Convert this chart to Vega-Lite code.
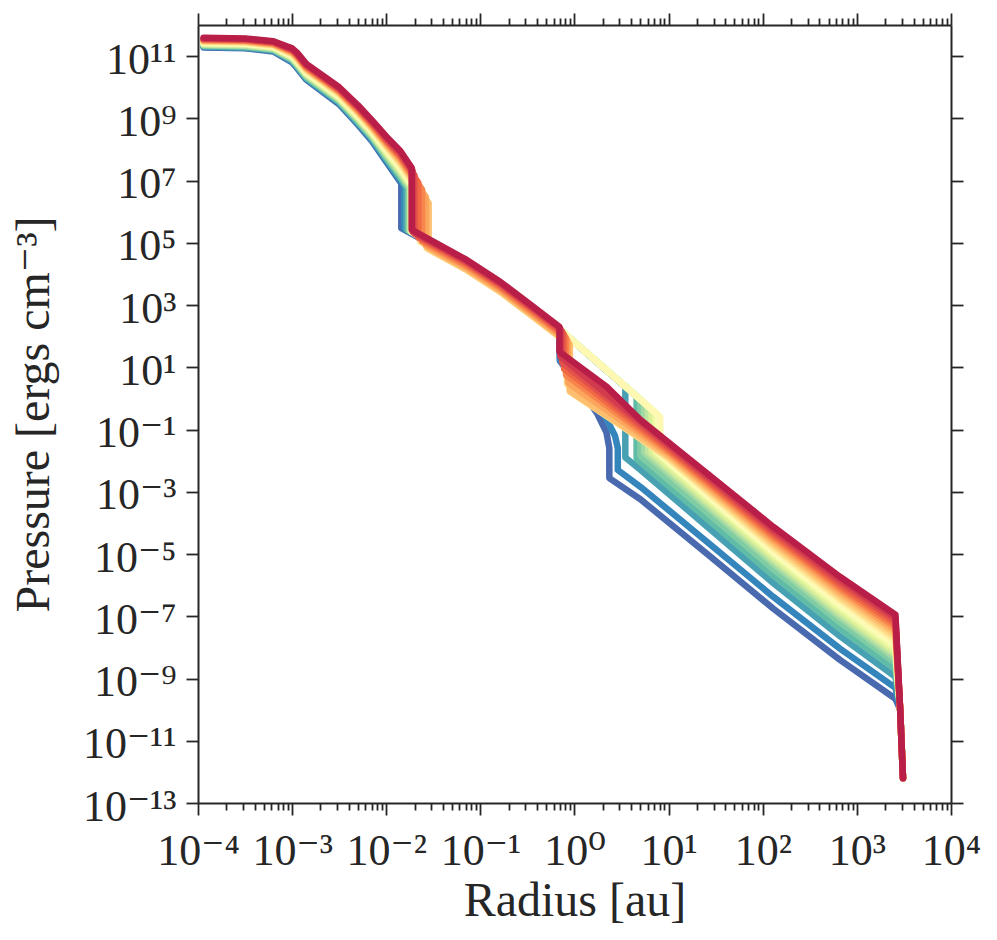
{
  "$schema": "https://vega.github.io/schema/vega-lite/v6.json",
  "width": 753,
  "height": 778,
  "autosize": {"type": "none"},
  "padding": {"left": 198, "top": 25, "right": 46, "bottom": 137},
  "background": "white",
  "config": {
    "view": {"stroke": null},
    "font": "Liberation Serif, DejaVu Serif, serif",
    "axis": {
      "domainColor": "#262626",
      "domainWidth": 2,
      "tickColor": "#262626",
      "tickWidth": 1.8,
      "labelColor": "#262626",
      "titleColor": "#262626",
      "labelFont": "Liberation Serif, DejaVu Serif, serif",
      "titleFont": "Liberation Serif, DejaVu Serif, serif",
      "labelFontSize": 44,
      "titleFontSize": 48,
      "titleFontWeight": "normal",
      "grid": false,
      "labelOverlap": false,
      "labelFlush": false
    }
  },
  "data": {
    "values": [
      {"s":0,"k":0,"r":1.148e-4,"p":1.905e11},{"s":0,"k":1,"r":3.162e-4,"p":1.778e11},{"s":0,"k":2,"r":6.31e-4,"p":1.413e11},{"s":0,"k":3,"r":1e-3,"p":6.31e10},{"s":0,"k":3.5,"r":1.122e-3,"p":4.169e10},{"s":0,"k":4,"r":1.413e-3,"p":1.738e10},{"s":0,"k":5,"r":3.162e-3,"p":2.818e9},{"s":0,"k":6,"r":5.012e-3,"p":6.166e8},{"s":0,"k":7,"r":7.079e-3,"p":1.82e8},{"s":0,"k":8,"r":0.01,"p":3.981e7},{"s":0,"k":9,"r":0.01413,"p":8.913e6},{"s":0,"k":10,"r":0.01445,"p":7.943e6},{"s":0,"k":11,"r":0.01445,"p":2.951e5},{"s":0,"k":12,"r":0.03162,"p":8.128e4},{"s":0,"k":13,"r":0.07161,"p":2.089e4},{"s":0,"k":14,"r":0.1622,"p":4169},{"s":0,"k":15,"r":0.3631,"p":660.7},{"s":0,"k":16,"r":0.6918,"p":147.9},{"s":0,"k":17,"r":0.6998,"p":17.78},{"s":0,"k":18,"r":1.259,"p":1.413},{"s":0,"k":19,"r":1.738,"p":0.3311},{"s":0,"k":20,"r":2.188,"p":0.07943},{"s":0,"k":21,"r":2.344,"p":0.02512},{"s":0,"k":22,"r":2.344,"p":2.754e-3},{"s":0,"k":23,"r":5.012,"p":5.754e-4},{"s":0,"k":24,"r":25.7,"p":1e-5},{"s":0,"k":25,"r":128.8,"p":1.778e-7},{"s":0,"k":26,"r":660.7,"p":3.981e-9},{"s":0,"k":27,"r":2570,"p":2.239e-10},{"s":0,"k":28,"r":2884,"p":1e-10},{"s":0,"k":29,"r":3090,"p":6.31e-13},
      {"s":1,"k":0,"r":1.148e-4,"p":1.995e11},{"s":1,"k":1,"r":3.162e-4,"p":1.862e11},{"s":1,"k":2,"r":6.31e-4,"p":1.479e11},{"s":1,"k":3,"r":1e-3,"p":6.607e10},{"s":1,"k":3.5,"r":1.122e-3,"p":4.467e10},{"s":1,"k":4,"r":1.413e-3,"p":1.862e10},{"s":1,"k":5,"r":3.162e-3,"p":3.02e9},{"s":1,"k":6,"r":5.012e-3,"p":6.607e8},{"s":1,"k":7,"r":7.079e-3,"p":1.995e8},{"s":1,"k":8,"r":0.01,"p":4.365e7},{"s":1,"k":9,"r":0.01413,"p":1e7},{"s":1,"k":10,"r":0.01549,"p":6.607e6},{"s":1,"k":11,"r":0.01549,"p":2.818e5},{"s":1,"k":12,"r":0.03162,"p":8.71e4},{"s":1,"k":13,"r":0.07161,"p":2.239e4},{"s":1,"k":14,"r":0.1622,"p":4467},{"s":1,"k":15,"r":0.3631,"p":707.9},{"s":1,"k":16,"r":0.6918,"p":158.5},{"s":1,"k":17,"r":0.6998,"p":15.85},{"s":1,"k":18,"r":1.413,"p":1},{"s":1,"k":19,"r":2.138,"p":0.2512},{"s":1,"k":20,"r":2.692,"p":0.0631},{"s":1,"k":21,"r":2.884,"p":0.02512},{"s":1,"k":22,"r":2.884,"p":5.012e-3},{"s":1,"k":23,"r":5.012,"p":1.445e-3},{"s":1,"k":24,"r":25.7,"p":2.455e-5},{"s":1,"k":25,"r":128.8,"p":4.266e-7},{"s":1,"k":26,"r":660.7,"p":9.12e-9},{"s":1,"k":27,"r":2570,"p":5.012e-10},{"s":1,"k":28,"r":2884,"p":1e-10},{"s":1,"k":29,"r":3090,"p":6.31e-13},
      {"s":2,"k":0,"r":1.148e-4,"p":2.042e11},{"s":2,"k":1,"r":3.162e-4,"p":1.905e11},{"s":2,"k":2,"r":6.31e-4,"p":1.549e11},{"s":2,"k":3,"r":1e-3,"p":7.079e10},{"s":2,"k":3.5,"r":1.122e-3,"p":4.677e10},{"s":2,"k":4,"r":1.413e-3,"p":1.95e10},{"s":2,"k":5,"r":3.162e-3,"p":3.236e9},{"s":2,"k":6,"r":5.012e-3,"p":7.244e8},{"s":2,"k":7,"r":7.079e-3,"p":2.138e8},{"s":2,"k":8,"r":0.01,"p":4.898e7},{"s":2,"k":9,"r":0.01413,"p":1.148e7},{"s":2,"k":10,"r":0.01622,"p":6.166e6},{"s":2,"k":11,"r":0.01622,"p":2.692e5},{"s":2,"k":12,"r":0.03162,"p":8.913e4},{"s":2,"k":13,"r":0.07161,"p":2.291e4},{"s":2,"k":14,"r":0.1622,"p":4571},{"s":2,"k":15,"r":0.3631,"p":724.4},{"s":2,"k":16,"r":0.6918,"p":162.2},{"s":2,"k":17,"r":3.467,"p":2.344},{"s":2,"k":18,"r":3.467,"p":0.01259},{"s":2,"k":19,"r":5.012,"p":5.129e-3},{"s":2,"k":20,"r":25.7,"p":7.586e-5},{"s":2,"k":21,"r":128.8,"p":1.175e-6},{"s":2,"k":22,"r":660.7,"p":2.291e-8},{"s":2,"k":23,"r":2570,"p":1.122e-9},{"s":2,"k":24,"r":2884,"p":1e-10},{"s":2,"k":25,"r":3090,"p":6.31e-13},
      {"s":3,"k":0,"r":1.148e-4,"p":2.138e11},{"s":3,"k":1,"r":3.162e-4,"p":1.995e11},{"s":3,"k":2,"r":6.31e-4,"p":1.585e11},{"s":3,"k":3,"r":1e-3,"p":7.413e10},{"s":3,"k":3.5,"r":1.122e-3,"p":5.012e10},{"s":3,"k":4,"r":1.413e-3,"p":2.089e10},{"s":3,"k":5,"r":3.162e-3,"p":3.467e9},{"s":3,"k":6,"r":5.012e-3,"p":7.762e8},{"s":3,"k":7,"r":7.079e-3,"p":2.344e8},{"s":3,"k":8,"r":0.01,"p":5.37e7},{"s":3,"k":9,"r":0.01413,"p":1.288e7},{"s":3,"k":10,"r":0.01698,"p":5.623e6},{"s":3,"k":11,"r":0.01698,"p":2.57e5},{"s":3,"k":12,"r":0.03162,"p":9.12e4},{"s":3,"k":13,"r":0.07161,"p":2.344e4},{"s":3,"k":14,"r":0.1622,"p":4677},{"s":3,"k":15,"r":0.3631,"p":741.3},{"s":3,"k":16,"r":0.6918,"p":166},{"s":3,"k":17,"r":4.571,"p":1.148},{"s":3,"k":18,"r":4.571,"p":0.01148},{"s":3,"k":19,"r":5.012,"p":9.12e-3},{"s":3,"k":20,"r":25.7,"p":1.349e-4},{"s":3,"k":21,"r":128.8,"p":2.089e-6},{"s":3,"k":22,"r":660.7,"p":4.074e-8},{"s":3,"k":23,"r":2570,"p":1.995e-9},{"s":3,"k":24,"r":2884,"p":1e-10},{"s":3,"k":25,"r":3090,"p":6.31e-13},
      {"s":4,"k":0,"r":1.148e-4,"p":2.239e11},{"s":4,"k":1,"r":3.162e-4,"p":2.089e11},{"s":4,"k":2,"r":6.31e-4,"p":1.66e11},{"s":4,"k":3,"r":1e-3,"p":7.943e10},{"s":4,"k":3.5,"r":1.122e-3,"p":5.37e10},{"s":4,"k":4,"r":1.413e-3,"p":2.239e10},{"s":4,"k":5,"r":3.162e-3,"p":3.715e9},{"s":4,"k":6,"r":5.012e-3,"p":8.318e8},{"s":4,"k":7,"r":7.079e-3,"p":2.512e8},{"s":4,"k":8,"r":0.01,"p":5.888e7},{"s":4,"k":9,"r":0.01413,"p":1.445e7},{"s":4,"k":10,"r":0.01738,"p":5.754e6},{"s":4,"k":11,"r":0.01738,"p":2.512e5},{"s":4,"k":12,"r":0.03162,"p":9.333e4},{"s":4,"k":13,"r":0.07161,"p":2.399e4},{"s":4,"k":14,"r":0.1622,"p":4786},{"s":4,"k":15,"r":0.3631,"p":758.6},{"s":4,"k":16,"r":0.6918,"p":169.8},{"s":4,"k":17,"r":5.012,"p":0.9333},{"s":4,"k":18,"r":5.012,"p":0.01445},{"s":4,"k":19,"r":25.7,"p":2.138e-4},{"s":4,"k":20,"r":128.8,"p":3.311e-6},{"s":4,"k":21,"r":660.7,"p":6.457e-8},{"s":4,"k":22,"r":2570,"p":3.162e-9},{"s":4,"k":23,"r":2884,"p":1e-10},{"s":4,"k":24,"r":3090,"p":6.31e-13},
      {"s":5,"k":0,"r":1.148e-4,"p":2.291e11},{"s":5,"k":1,"r":3.162e-4,"p":2.138e11},{"s":5,"k":2,"r":6.31e-4,"p":1.738e11},{"s":5,"k":3,"r":1e-3,"p":8.318e10},{"s":5,"k":3.5,"r":1.122e-3,"p":5.623e10},{"s":5,"k":4,"r":1.413e-3,"p":2.344e10},{"s":5,"k":5,"r":3.162e-3,"p":3.981e9},{"s":5,"k":6,"r":5.012e-3,"p":9.12e8},{"s":5,"k":7,"r":7.079e-3,"p":2.754e8},{"s":5,"k":8,"r":0.01,"p":6.607e7},{"s":5,"k":9,"r":0.01413,"p":1.622e7},{"s":5,"k":10,"r":0.01778,"p":5.754e6},{"s":5,"k":11,"r":0.01778,"p":2.399e5},{"s":5,"k":12,"r":0.03162,"p":9.333e4},{"s":5,"k":13,"r":0.07161,"p":2.399e4},{"s":5,"k":14,"r":0.1622,"p":4786},{"s":5,"k":15,"r":0.3631,"p":758.6},{"s":5,"k":16,"r":0.6918,"p":169.8},{"s":5,"k":17,"r":5.495,"p":0.7244},{"s":5,"k":18,"r":5.495,"p":0.0182},{"s":5,"k":19,"r":25.7,"p":3.311e-4},{"s":5,"k":20,"r":128.8,"p":5.012e-6},{"s":5,"k":21,"r":660.7,"p":9.333e-8},{"s":5,"k":22,"r":2570,"p":4.467e-9},{"s":5,"k":23,"r":2884,"p":1e-10},{"s":5,"k":24,"r":3090,"p":6.31e-13},
      {"s":6,"k":0,"r":1.148e-4,"p":2.399e11},{"s":6,"k":1,"r":3.162e-4,"p":2.239e11},{"s":6,"k":2,"r":6.31e-4,"p":1.778e11},{"s":6,"k":3,"r":1e-3,"p":8.71e10},{"s":6,"k":3.5,"r":1.122e-3,"p":6.026e10},{"s":6,"k":4,"r":1.413e-3,"p":2.512e10},{"s":6,"k":5,"r":3.162e-3,"p":4.169e9},{"s":6,"k":6,"r":5.012e-3,"p":9.772e8},{"s":6,"k":7,"r":7.079e-3,"p":2.951e8},{"s":6,"k":8,"r":0.01,"p":7.244e7},{"s":6,"k":9,"r":0.01413,"p":1.862e7},{"s":6,"k":10,"r":0.0182,"p":6.026e6},{"s":6,"k":11,"r":0.0182,"p":2.344e5},{"s":6,"k":12,"r":0.03162,"p":9.333e4},{"s":6,"k":13,"r":0.07161,"p":2.399e4},{"s":6,"k":14,"r":0.1622,"p":4786},{"s":6,"k":15,"r":0.3631,"p":758.6},{"s":6,"k":16,"r":0.6918,"p":169.8},{"s":6,"k":17,"r":6.026,"p":0.5754},{"s":6,"k":18,"r":6.026,"p":0.01862},{"s":6,"k":19,"r":25.7,"p":4.169e-4},{"s":6,"k":20,"r":128.8,"p":6.31e-6},{"s":6,"k":21,"r":660.7,"p":1.175e-7},{"s":6,"k":22,"r":2570,"p":5.623e-9},{"s":6,"k":23,"r":2884,"p":1e-10},{"s":6,"k":24,"r":3090,"p":6.31e-13},
      {"s":7,"k":0,"r":1.148e-4,"p":2.455e11},{"s":7,"k":1,"r":3.162e-4,"p":2.344e11},{"s":7,"k":2,"r":6.31e-4,"p":1.862e11},{"s":7,"k":3,"r":1e-3,"p":9.333e10},{"s":7,"k":3.5,"r":1.122e-3,"p":6.31e10},{"s":7,"k":4,"r":1.413e-3,"p":2.692e10},{"s":7,"k":5,"r":3.162e-3,"p":4.467e9},{"s":7,"k":6,"r":5.012e-3,"p":1.047e9},{"s":7,"k":7,"r":7.079e-3,"p":3.236e8},{"s":7,"k":8,"r":0.01,"p":7.943e7},{"s":7,"k":9,"r":0.01413,"p":2.089e7},{"s":7,"k":10,"r":0.0182,"p":6.761e6},{"s":7,"k":11,"r":0.0182,"p":2.344e5},{"s":7,"k":12,"r":0.03162,"p":9.333e4},{"s":7,"k":13,"r":0.07161,"p":2.399e4},{"s":7,"k":14,"r":0.1622,"p":4786},{"s":7,"k":15,"r":0.3631,"p":758.6},{"s":7,"k":16,"r":0.6918,"p":169.8},{"s":7,"k":17,"r":6.607,"p":0.4467},{"s":7,"k":18,"r":6.607,"p":0.01862},{"s":7,"k":19,"r":25.7,"p":5.248e-4},{"s":7,"k":20,"r":128.8,"p":7.943e-6},{"s":7,"k":21,"r":660.7,"p":1.479e-7},{"s":7,"k":22,"r":2570,"p":7.079e-9},{"s":7,"k":23,"r":2884,"p":1e-10},{"s":7,"k":24,"r":3090,"p":6.31e-13},
      {"s":8,"k":0,"r":1.148e-4,"p":2.57e11},{"s":8,"k":1,"r":3.162e-4,"p":2.455e11},{"s":8,"k":2,"r":6.31e-4,"p":1.95e11},{"s":8,"k":3,"r":1e-3,"p":9.772e10},{"s":8,"k":3.5,"r":1.122e-3,"p":6.761e10},{"s":8,"k":4,"r":1.413e-3,"p":2.884e10},{"s":8,"k":5,"r":3.162e-3,"p":4.786e9},{"s":8,"k":6,"r":5.012e-3,"p":1.148e9},{"s":8,"k":7,"r":7.079e-3,"p":3.467e8},{"s":8,"k":8,"r":0.01,"p":8.913e7},{"s":8,"k":9,"r":0.01413,"p":2.344e7},{"s":8,"k":10,"r":0.01862,"p":6.761e6},{"s":8,"k":11,"r":0.01862,"p":2.239e5},{"s":8,"k":12,"r":0.03162,"p":9.333e4},{"s":8,"k":13,"r":0.07161,"p":2.399e4},{"s":8,"k":14,"r":0.1622,"p":4786},{"s":8,"k":15,"r":0.3631,"p":758.6},{"s":8,"k":16,"r":0.6918,"p":169.8},{"s":8,"k":17,"r":7.244,"p":0.3548},{"s":8,"k":18,"r":7.244,"p":0.01862},{"s":8,"k":19,"r":25.7,"p":6.607e-4},{"s":8,"k":20,"r":128.8,"p":1e-5},{"s":8,"k":21,"r":660.7,"p":1.862e-7},{"s":8,"k":22,"r":2570,"p":8.913e-9},{"s":8,"k":23,"r":2884,"p":1e-10},{"s":8,"k":24,"r":3090,"p":6.31e-13},
      {"s":9,"k":0,"r":1.148e-4,"p":2.692e11},{"s":9,"k":1,"r":3.162e-4,"p":2.512e11},{"s":9,"k":2,"r":6.31e-4,"p":2.042e11},{"s":9,"k":3,"r":1e-3,"p":1.023e11},{"s":9,"k":3.5,"r":1.122e-3,"p":7.244e10},{"s":9,"k":4,"r":1.413e-3,"p":3.02e10},{"s":9,"k":5,"r":3.162e-3,"p":5.129e9},{"s":9,"k":6,"r":5.012e-3,"p":1.23e9},{"s":9,"k":7,"r":7.079e-3,"p":3.802e8},{"s":9,"k":8,"r":0.01,"p":9.772e7},{"s":9,"k":9,"r":0.01413,"p":2.63e7},{"s":9,"k":10,"r":0.01905,"p":6.918e6},{"s":9,"k":11,"r":0.01905,"p":2.138e5},{"s":9,"k":12,"r":0.03162,"p":9.333e4},{"s":9,"k":13,"r":0.07161,"p":2.399e4},{"s":9,"k":14,"r":0.1622,"p":4786},{"s":9,"k":15,"r":0.3631,"p":758.6},{"s":9,"k":16,"r":0.6918,"p":169.8},{"s":9,"k":17,"r":7.762,"p":0.2951},{"s":9,"k":18,"r":7.762,"p":0.01778},{"s":9,"k":19,"r":25.7,"p":7.586e-4},{"s":9,"k":20,"r":128.8,"p":1.175e-5},{"s":9,"k":21,"r":660.7,"p":2.291e-7},{"s":9,"k":22,"r":2570,"p":1.122e-8},{"s":9,"k":23,"r":2884,"p":1e-10},{"s":9,"k":24,"r":3090,"p":6.31e-13},
      {"s":10,"k":0,"r":1.148e-4,"p":2.754e11},{"s":10,"k":1,"r":3.162e-4,"p":2.63e11},{"s":10,"k":2,"r":6.31e-4,"p":2.089e11},{"s":10,"k":3,"r":1e-3,"p":1.096e11},{"s":10,"k":3.5,"r":1.122e-3,"p":7.586e10},{"s":10,"k":4,"r":1.413e-3,"p":3.236e10},{"s":10,"k":5,"r":3.162e-3,"p":5.495e9},{"s":10,"k":6,"r":5.012e-3,"p":1.318e9},{"s":10,"k":7,"r":7.079e-3,"p":4.074e8},{"s":10,"k":8,"r":0.01,"p":1.072e8},{"s":10,"k":9,"r":0.01413,"p":3.02e7},{"s":10,"k":10,"r":0.01995,"p":6.457e6},{"s":10,"k":11,"r":0.01995,"p":1.905e5},{"s":10,"k":12,"r":0.03162,"p":8.913e4},{"s":10,"k":13,"r":0.07161,"p":2.291e4},{"s":10,"k":14,"r":0.1622,"p":4571},{"s":10,"k":15,"r":0.3631,"p":724.4},{"s":10,"k":16,"r":0.6918,"p":162.2},{"s":10,"k":17,"r":8.128,"p":0.2512},{"s":10,"k":18,"r":8.128,"p":0.01778},{"s":10,"k":19,"r":25.7,"p":8.913e-4},{"s":10,"k":20,"r":128.8,"p":1.413e-5},{"s":10,"k":21,"r":660.7,"p":2.818e-7},{"s":10,"k":22,"r":2570,"p":1.413e-8},{"s":10,"k":23,"r":2884,"p":1e-10},{"s":10,"k":24,"r":3090,"p":6.31e-13},
      {"s":11,"k":0,"r":1.148e-4,"p":2.884e11},{"s":11,"k":1,"r":3.162e-4,"p":2.754e11},{"s":11,"k":2,"r":6.31e-4,"p":2.188e11},{"s":11,"k":3,"r":1e-3,"p":1.148e11},{"s":11,"k":3.5,"r":1.122e-3,"p":8.128e10},{"s":11,"k":4,"r":1.413e-3,"p":3.467e10},{"s":11,"k":5,"r":3.162e-3,"p":5.888e9},{"s":11,"k":6,"r":5.012e-3,"p":1.445e9},{"s":11,"k":7,"r":7.079e-3,"p":4.467e8},{"s":11,"k":8,"r":0.01,"p":1.202e8},{"s":11,"k":9,"r":0.01413,"p":3.388e7},{"s":11,"k":10,"r":0.02291,"p":3.89e6},{"s":11,"k":11,"r":0.02291,"p":1.072e5},{"s":11,"k":12,"r":0.03162,"p":6.31e4},{"s":11,"k":13,"r":0.07161,"p":1.622e4},{"s":11,"k":14,"r":0.1622,"p":3236},{"s":11,"k":15,"r":0.3631,"p":512.9},{"s":11,"k":16,"r":0.8318,"p":74.13},{"s":11,"k":17,"r":0.8318,"p":2.818},{"s":11,"k":18,"r":10,"p":0.01122},{"s":11,"k":19,"r":25.7,"p":1.023e-3},{"s":11,"k":20,"r":128.8,"p":1.66e-5},{"s":11,"k":21,"r":660.7,"p":3.467e-7},{"s":11,"k":22,"r":2570,"p":1.778e-8},{"s":11,"k":23,"r":2884,"p":1e-10},{"s":11,"k":24,"r":3090,"p":6.31e-13},
      {"s":12,"k":0,"r":1.148e-4,"p":3.02e11},{"s":12,"k":1,"r":3.162e-4,"p":2.818e11},{"s":12,"k":2,"r":6.31e-4,"p":2.291e11},{"s":12,"k":3,"r":1e-3,"p":1.202e11},{"s":12,"k":3.5,"r":1.122e-3,"p":8.71e10},{"s":12,"k":4,"r":1.413e-3,"p":3.631e10},{"s":12,"k":5,"r":3.162e-3,"p":6.31e9},{"s":12,"k":6,"r":5.012e-3,"p":1.549e9},{"s":12,"k":7,"r":7.079e-3,"p":4.786e8},{"s":12,"k":8,"r":0.01,"p":1.318e8},{"s":12,"k":9,"r":0.01413,"p":3.802e7},{"s":12,"k":10,"r":0.02692,"p":2.089e6},{"s":12,"k":11,"r":0.02692,"p":6.761e4},{"s":12,"k":12,"r":0.03162,"p":5.129e4},{"s":12,"k":13,"r":0.07161,"p":1.318e4},{"s":12,"k":14,"r":0.1622,"p":2630},{"s":12,"k":15,"r":0.3631,"p":416.9},{"s":12,"k":16,"r":0.8913,"p":51.29},{"s":12,"k":17,"r":0.8913,"p":1.66},{"s":12,"k":18,"r":10,"p":0.01259},{"s":12,"k":19,"r":25.7,"p":1.175e-3},{"s":12,"k":20,"r":128.8,"p":1.995e-5},{"s":12,"k":21,"r":660.7,"p":4.169e-7},{"s":12,"k":22,"r":2570,"p":2.239e-8},{"s":12,"k":23,"r":2884,"p":1e-10},{"s":12,"k":24,"r":3090,"p":6.31e-13},
      {"s":13,"k":0,"r":1.148e-4,"p":3.09e11},{"s":13,"k":1,"r":3.162e-4,"p":2.951e11},{"s":13,"k":2,"r":6.31e-4,"p":2.399e11},{"s":13,"k":3,"r":1e-3,"p":1.288e11},{"s":13,"k":3.5,"r":1.122e-3,"p":9.12e10},{"s":13,"k":4,"r":1.413e-3,"p":3.89e10},{"s":13,"k":5,"r":3.162e-3,"p":6.761e9},{"s":13,"k":6,"r":5.012e-3,"p":1.66e9},{"s":13,"k":7,"r":7.079e-3,"p":5.248e8},{"s":13,"k":8,"r":0.01,"p":1.445e8},{"s":13,"k":9,"r":0.01413,"p":4.266e7},{"s":13,"k":10,"r":0.02818,"p":1.905e6},{"s":13,"k":11,"r":0.02818,"p":6.607e4},{"s":13,"k":12,"r":0.03162,"p":5.495e4},{"s":13,"k":13,"r":0.07161,"p":1.413e4},{"s":13,"k":14,"r":0.1622,"p":2818},{"s":13,"k":15,"r":0.3631,"p":446.7},{"s":13,"k":16,"r":0.8913,"p":54.95},{"s":13,"k":17,"r":0.8913,"p":1.778},{"s":13,"k":18,"r":10,"p":0.01445},{"s":13,"k":19,"r":25.7,"p":1.38e-3},{"s":13,"k":20,"r":128.8,"p":2.399e-5},{"s":13,"k":21,"r":660.7,"p":5.129e-7},{"s":13,"k":22,"r":2570,"p":2.818e-8},{"s":13,"k":23,"r":2884,"p":1e-10},{"s":13,"k":24,"r":3090,"p":6.31e-13},
      {"s":14,"k":0,"r":1.148e-4,"p":3.236e11},{"s":14,"k":1,"r":3.162e-4,"p":3.09e11},{"s":14,"k":2,"r":6.31e-4,"p":2.455e11},{"s":14,"k":3,"r":1e-3,"p":1.349e11},{"s":14,"k":3.5,"r":1.122e-3,"p":9.772e10},{"s":14,"k":4,"r":1.413e-3,"p":4.169e10},{"s":14,"k":5,"r":3.162e-3,"p":7.244e9},{"s":14,"k":6,"r":5.012e-3,"p":1.778e9},{"s":14,"k":7,"r":7.079e-3,"p":5.623e8},{"s":14,"k":8,"r":0.01,"p":1.585e8},{"s":14,"k":9,"r":0.01413,"p":4.898e7},{"s":14,"k":10,"r":0.0263,"p":2.951e6},{"s":14,"k":11,"r":0.0263,"p":8.318e4},{"s":14,"k":12,"r":0.03162,"p":6.166e4},{"s":14,"k":13,"r":0.07161,"p":1.585e4},{"s":14,"k":14,"r":0.1622,"p":3162},{"s":14,"k":15,"r":0.3631,"p":501.2},{"s":14,"k":16,"r":0.8511,"p":69.18},{"s":14,"k":17,"r":0.8511,"p":3.162},{"s":14,"k":18,"r":10,"p":0.01698},{"s":14,"k":19,"r":25.7,"p":1.622e-3},{"s":14,"k":20,"r":128.8,"p":2.884e-5},{"s":14,"k":21,"r":660.7,"p":6.457e-7},{"s":14,"k":22,"r":2570,"p":3.548e-8},{"s":14,"k":23,"r":2884,"p":1e-10},{"s":14,"k":24,"r":3090,"p":6.31e-13},
      {"s":15,"k":0,"r":1.148e-4,"p":3.311e11},{"s":15,"k":1,"r":3.162e-4,"p":3.162e11},{"s":15,"k":2,"r":6.31e-4,"p":2.57e11},{"s":15,"k":3,"r":1e-3,"p":1.445e11},{"s":15,"k":3.5,"r":1.122e-3,"p":1.047e11},{"s":15,"k":4,"r":1.413e-3,"p":4.365e10},{"s":15,"k":5,"r":3.162e-3,"p":7.586e9},{"s":15,"k":6,"r":5.012e-3,"p":1.95e9},{"s":15,"k":7,"r":7.079e-3,"p":6.166e8},{"s":15,"k":8,"r":0.01,"p":1.778e8},{"s":15,"k":9,"r":0.01413,"p":5.495e7},{"s":15,"k":10,"r":0.02399,"p":5.129e6},{"s":15,"k":11,"r":0.02399,"p":1.122e5},{"s":15,"k":12,"r":0.03162,"p":7.079e4},{"s":15,"k":13,"r":0.07161,"p":1.82e4},{"s":15,"k":14,"r":0.1622,"p":3631},{"s":15,"k":15,"r":0.3631,"p":575.4},{"s":15,"k":16,"r":0.8128,"p":89.13},{"s":15,"k":17,"r":0.8128,"p":5.623},{"s":15,"k":18,"r":10,"p":0.01995},{"s":15,"k":19,"r":25.7,"p":1.95e-3},{"s":15,"k":20,"r":128.8,"p":3.548e-5},{"s":15,"k":21,"r":660.7,"p":7.943e-7},{"s":15,"k":22,"r":2570,"p":4.467e-8},{"s":15,"k":23,"r":2884,"p":1e-10},{"s":15,"k":24,"r":3090,"p":6.31e-13},
      {"s":16,"k":0,"r":1.148e-4,"p":3.467e11},{"s":16,"k":1,"r":3.162e-4,"p":3.311e11},{"s":16,"k":2,"r":6.31e-4,"p":2.692e11},{"s":16,"k":3,"r":1e-3,"p":1.514e11},{"s":16,"k":3.5,"r":1.122e-3,"p":1.096e11},{"s":16,"k":4,"r":1.413e-3,"p":4.677e10},{"s":16,"k":5,"r":3.162e-3,"p":8.128e9},{"s":16,"k":6,"r":5.012e-3,"p":2.089e9},{"s":16,"k":7,"r":7.079e-3,"p":6.607e8},{"s":16,"k":8,"r":0.01,"p":1.95e8},{"s":16,"k":9,"r":0.01413,"p":6.166e7},{"s":16,"k":10,"r":0.02188,"p":8.71e6},{"s":16,"k":11,"r":0.02188,"p":1.479e5},{"s":16,"k":12,"r":0.03162,"p":8.128e4},{"s":16,"k":13,"r":0.07161,"p":2.089e4},{"s":16,"k":14,"r":0.1622,"p":4169},{"s":16,"k":15,"r":0.3631,"p":660.7},{"s":16,"k":16,"r":0.7762,"p":112.2},{"s":16,"k":17,"r":0.7762,"p":8.913},{"s":16,"k":18,"r":10,"p":0.02344},{"s":16,"k":19,"r":25.7,"p":2.291e-3},{"s":16,"k":20,"r":128.8,"p":4.266e-5},{"s":16,"k":21,"r":660.7,"p":9.772e-7},{"s":16,"k":22,"r":2570,"p":5.623e-8},{"s":16,"k":23,"r":2884,"p":1e-10},{"s":16,"k":24,"r":3090,"p":6.31e-13},
      {"s":17,"k":0,"r":1.148e-4,"p":3.631e11},{"s":17,"k":1,"r":3.162e-4,"p":3.467e11},{"s":17,"k":2,"r":6.31e-4,"p":2.818e11},{"s":17,"k":3,"r":1e-3,"p":1.585e11},{"s":17,"k":3.5,"r":1.122e-3,"p":1.175e11},{"s":17,"k":4,"r":1.413e-3,"p":5.012e10},{"s":17,"k":5,"r":3.162e-3,"p":8.71e9},{"s":17,"k":6,"r":5.012e-3,"p":2.239e9},{"s":17,"k":7,"r":7.079e-3,"p":7.244e8},{"s":17,"k":8,"r":0.01,"p":2.138e8},{"s":17,"k":9,"r":0.01413,"p":6.918e7},{"s":17,"k":10,"r":0.01995,"p":1.479e7},{"s":17,"k":11,"r":0.01995,"p":1.95e5},{"s":17,"k":12,"r":0.03162,"p":9.12e4},{"s":17,"k":13,"r":0.07161,"p":2.344e4},{"s":17,"k":14,"r":0.1622,"p":4677},{"s":17,"k":15,"r":0.3631,"p":741.3},{"s":17,"k":16,"r":0.7413,"p":141.3},{"s":17,"k":17,"r":0.7413,"p":14.13},{"s":17,"k":18,"r":10,"p":0.02754},{"s":17,"k":19,"r":25.7,"p":2.754e-3},{"s":17,"k":20,"r":128.8,"p":5.129e-5},{"s":17,"k":21,"r":660.7,"p":1.202e-6},{"s":17,"k":22,"r":2570,"p":7.079e-8},{"s":17,"k":23,"r":2884,"p":1e-10},{"s":17,"k":24,"r":3090,"p":6.31e-13},
      {"s":18,"k":0,"r":1.148e-4,"p":3.715e11},{"s":18,"k":1,"r":3.162e-4,"p":3.548e11},{"s":18,"k":2,"r":6.31e-4,"p":2.884e11},{"s":18,"k":3,"r":1e-3,"p":1.698e11},{"s":18,"k":3.5,"r":1.122e-3,"p":1.23e11},{"s":18,"k":4,"r":1.413e-3,"p":5.248e10},{"s":18,"k":5,"r":3.162e-3,"p":9.333e9},{"s":18,"k":6,"r":5.012e-3,"p":2.455e9},{"s":18,"k":7,"r":7.079e-3,"p":7.943e8},{"s":18,"k":8,"r":0.01,"p":2.399e8},{"s":18,"k":9,"r":0.01413,"p":7.943e7},{"s":18,"k":10,"r":0.01905,"p":2.089e7},{"s":18,"k":11,"r":0.01905,"p":2.291e5},{"s":18,"k":12,"r":0.03162,"p":1e5},{"s":18,"k":13,"r":0.07161,"p":2.57e4},{"s":18,"k":14,"r":0.1622,"p":5129},{"s":18,"k":15,"r":0.3631,"p":812.8},{"s":18,"k":16,"r":0.7079,"p":173.8},{"s":18,"k":17,"r":0.7079,"p":22.39},{"s":18,"k":18,"r":10,"p":0.03236},{"s":18,"k":19,"r":25.7,"p":3.236e-3},{"s":18,"k":20,"r":128.8,"p":6.166e-5},{"s":18,"k":21,"r":660.7,"p":1.514e-6},{"s":18,"k":22,"r":2570,"p":8.913e-8},{"s":18,"k":23,"r":2884,"p":1e-10},{"s":18,"k":24,"r":3090,"p":6.31e-13},
      {"s":19,"k":0,"r":1.148e-4,"p":3.89e11},{"s":19,"k":1,"r":3.162e-4,"p":3.715e11},{"s":19,"k":2,"r":6.31e-4,"p":3.02e11},{"s":19,"k":3,"r":1e-3,"p":1.778e11},{"s":19,"k":3.5,"r":1.122e-3,"p":1.318e11},{"s":19,"k":4,"r":1.413e-3,"p":5.623e10},{"s":19,"k":5,"r":3.162e-3,"p":1e10},{"s":19,"k":6,"r":5.012e-3,"p":2.63e9},{"s":19,"k":7,"r":7.079e-3,"p":8.511e8},{"s":19,"k":8,"r":0.01,"p":2.63e8},{"s":19,"k":9,"r":0.01413,"p":8.913e7},{"s":19,"k":10,"r":0.01862,"p":2.57e7},{"s":19,"k":11,"r":0.01862,"p":2.63e5},{"s":19,"k":12,"r":0.03162,"p":1.096e5},{"s":19,"k":13,"r":0.07161,"p":2.818e4},{"s":19,"k":14,"r":0.1622,"p":5623},{"s":19,"k":15,"r":0.3631,"p":891.3},{"s":19,"k":16,"r":0.6918,"p":199.5},{"s":19,"k":17,"r":0.6918,"p":31.62},{"s":19,"k":18,"r":2.188,"p":2.399},{"s":19,"k":19,"r":5.012,"p":0.2042},{"s":19,"k":20,"r":25.7,"p":3.89e-3},{"s":19,"k":21,"r":128.8,"p":7.586e-5},{"s":19,"k":22,"r":660.7,"p":1.862e-6},{"s":19,"k":23,"r":2570,"p":1.122e-7},{"s":19,"k":24,"r":2884,"p":1e-10},{"s":19,"k":25,"r":3090,"p":6.31e-13}
    ]
  },
  "layer": [
    {
      "mark": {"type": "line", "opacity": 0},
      "encoding": {
        "x": {
          "field": "r",
          "type": "quantitative",
          "scale": {"type": "log", "domain": [1e-4, 1e4], "nice": false},
          "axis": {
            "orient": "top",
            "title": null,
            "labels": false,
            "values": [1e-4,2e-4,3e-4,4e-4,5e-4,6e-4,7e-4,8e-4,9e-4,0.001,0.002,0.003,0.004,0.005,0.006,0.007,0.008,0.009,0.01,0.02,0.03,0.04,0.05,0.06,0.07,0.08,0.09,0.1,0.2,0.3,0.4,0.5,0.6,0.7,0.8,0.9,1,2,3,4,5,6,7,8,9,10,20,30,40,50,60,70,80,90,100,200,300,400,500,600,700,800,900,1000,2000,3000,4000,5000,6000,7000,8000,9000,10000],
            "tickSize": {"condition": {"test": "abs(log(datum.value)/LN10 - round(log(datum.value)/LN10)) < 0.01", "value": 12}, "value": 7}
          }
        },
        "y": {
          "field": "p",
          "type": "quantitative",
          "scale": {"type": "log", "domain": [1e-13, 1e12], "nice": false},
          "axis": {
            "orient": "right",
            "title": null,
            "labels": false,
            "tickSize": 12,
            "values": [1e-13,1e-11,1e-9,1e-7,1e-5,0.001,0.1,10,1000,100000,1e7,1e9,1e11]
          }
        },
        "detail": {"field": "s"},
        "order": {"field": "k", "type": "quantitative"}
      }
    },
    {
      "mark": {"type": "line", "strokeWidth": 6.5, "strokeJoin": "round", "strokeCap": "round"},
      "encoding": {
        "x": {
          "field": "r",
          "type": "quantitative",
          "scale": {"type": "log", "domain": [1e-4, 1e4], "nice": false},
          "axis": {
            "orient": "bottom",
            "title": "Radius [au]",
            "titleFont": "Liberation Serif, DejaVu Serif, serif",
            "titleX": 376.5,
            "titleY": 112,
            "titleAlign": "center",
            "titleBaseline": "alphabetic",
            "labelFont": "Liberation Serif, DejaVu Serif, serif",
            "labelBaseline": "alphabetic",
            "labelPadding": 49,
            "values": [1e-4,2e-4,3e-4,4e-4,5e-4,6e-4,7e-4,8e-4,9e-4,0.001,0.002,0.003,0.004,0.005,0.006,0.007,0.008,0.009,0.01,0.02,0.03,0.04,0.05,0.06,0.07,0.08,0.09,0.1,0.2,0.3,0.4,0.5,0.6,0.7,0.8,0.9,1,2,3,4,5,6,7,8,9,10,20,30,40,50,60,70,80,90,100,200,300,400,500,600,700,800,900,1000,2000,3000,4000,5000,6000,7000,8000,9000,10000],
            "tickSize": {"condition": {"test": "abs(log(datum.value)/LN10 - round(log(datum.value)/LN10)) < 0.01", "value": 12}, "value": 7},
            "labelExpr": "abs(log(datum.value)/LN10 - round(log(datum.value)/LN10)) < 0.01 ? '10' + (round(log(datum.value)/LN10) < 0 ? '⁻' : '') + ['⁰','¹','²','³','⁴','⁵','⁶','⁷','⁸','⁹'][abs(round(log(datum.value)/LN10))] : ''"
          }
        },
        "y": {
          "field": "p",
          "type": "quantitative",
          "scale": {"type": "log", "domain": [1e-13, 1e12], "nice": false},
          "axis": {
            "orient": "left",
            "title": "Pressure [ergs cm⁻³]",
            "titleFont": "Liberation Serif, DejaVu Serif, serif",
            "titleX": -150,
            "titleY": 389,
            "titleAngle": -90,
            "titleAlign": "center",
            "titleBaseline": "alphabetic",
            "labelFont": "Liberation Serif, DejaVu Serif, serif",
            "labelPadding": 10,
            "labelOffset": 4,
            "tickSize": 12,
            "values": [1e-13,1e-11,1e-9,1e-7,1e-5,0.001,0.1,10,1000,100000,1e7,1e9,1e11],
            "labelExpr": "'10' + (round(log(datum.value)/LN10) < 0 ? '⁻' : '') + (abs(round(log(datum.value)/LN10)) >= 10 ? '¹' : '') + ['⁰','¹','²','³','⁴','⁵','⁶','⁷','⁸','⁹'][abs(round(log(datum.value)/LN10)) % 10]"
          }
        },
        "color": {
          "field": "s",
          "type": "ordinal",
          "legend": null,
          "scale": {
            "domain": [0,1,2,3,4,5,6,7,8,9,10,11,12,13,14,15,16,17,18,19],
            "range": ["#496aaf","#3485bc","#48a1b3","#61bca7","#80cca5","#a1d9a4","#bfe5a0","#dbf09a","#edf8a3","#f9fdb6","#fff8b3","#fee99a","#fed683","#fdbf6f","#fca55d","#f7864e","#f16944","#e2524a","#d23b4e","#b81e48"]
          }
        },
        "order": {"field": "k", "type": "quantitative"}
      }
    }
  ],
  "resolve": {"axis": {"x": "independent", "y": "independent"}}
}
